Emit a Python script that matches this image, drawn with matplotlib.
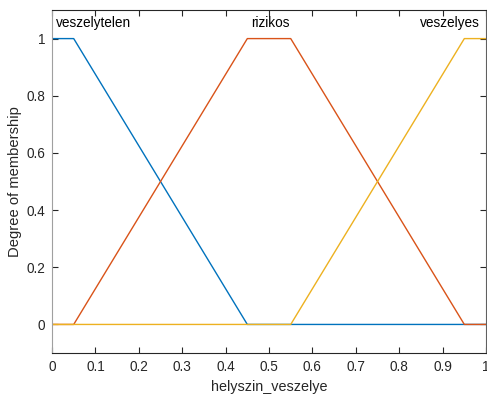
import matplotlib.pyplot as plt
import numpy as np

plt.rcParams['font.family'] = ['Liberation Sans', 'DejaVu Sans']

# membership functions of helyszin_veszelye (trapezoids)
mf_names = ["veszelytelen", "rizikos", "veszelyes"]
mf_params = [[0.0, 0.0, 0.05, 0.45],
             [0.05, 0.45, 0.55, 0.95],
             [0.55, 0.95, 1.0, 1.0]]
colors = ["#0072BD", "#D95319", "#EDB120"]

x_ticks = [0, 0.1, 0.2, 0.3, 0.4, 0.5, 0.6, 0.7, 0.8, 0.9, 1]
y_ticks = [0, 0.2, 0.4, 0.6, 0.8, 1]


def trapmf(x, p):
    a, b, c, d = p
    y = np.ones_like(x)
    if b > a:
        y = np.minimum(y, (x - a) / (b - a))
    else:
        y = np.where(x < a, 0.0, y)
    if d > c:
        y = np.minimum(y, (d - x) / (d - c))
    else:
        y = np.where(x > d, 0.0, y)
    return np.clip(y, 0, 1)


x = np.linspace(0, 1, 1001)

fig = plt.figure(figsize=(4.87, 3.94), dpi=100)
ax = fig.add_axes([0.1068, 0.104, 0.8912, 0.8706])

for p, c in zip(mf_params, colors):
    ax.plot(x, trapmf(x, p), color=c, lw=1.0)

txt = dict(fontsize=9.8, color="#000000", va="center")
ax.text(0.009, 1.055, mf_names[0], ha="left", **txt)
ax.text(0.502, 1.055, mf_names[1], ha="center", **txt)
ax.text(0.986, 1.055, mf_names[2], ha="right", **txt)

ax.set_xlim(0, 1)
ax.set_ylim(-0.1, 1.1)
ax.set_xticks(x_ticks)
ax.set_xticklabels(["0", "0.1", "0.2", "0.3", "0.4", "0.5", "0.6", "0.7", "0.8", "0.9", "1"])
ax.set_yticks(y_ticks)
ax.set_yticklabels(["0", "0.2", "0.4", "0.6", "0.8", "1"])
ax.tick_params(direction="in", top=True, right=True, length=4, width=0.8,
               labelsize=9.8, colors="#262626", pad=5)
for s in ax.spines.values():
    s.set_color("#262626")
    s.set_linewidth(0.8)
ax.spines["left"].set_color("#a0a0a0")
ax.spines["right"].set_color("#606060")

ax.set_xlabel("helyszin_veszelye", fontsize=10.4, color="#262626", labelpad=4)
ax.set_ylabel("Degree of membership", fontsize=10.6, color="#262626", labelpad=3)

fig.savefig("out.png", dpi=100)
